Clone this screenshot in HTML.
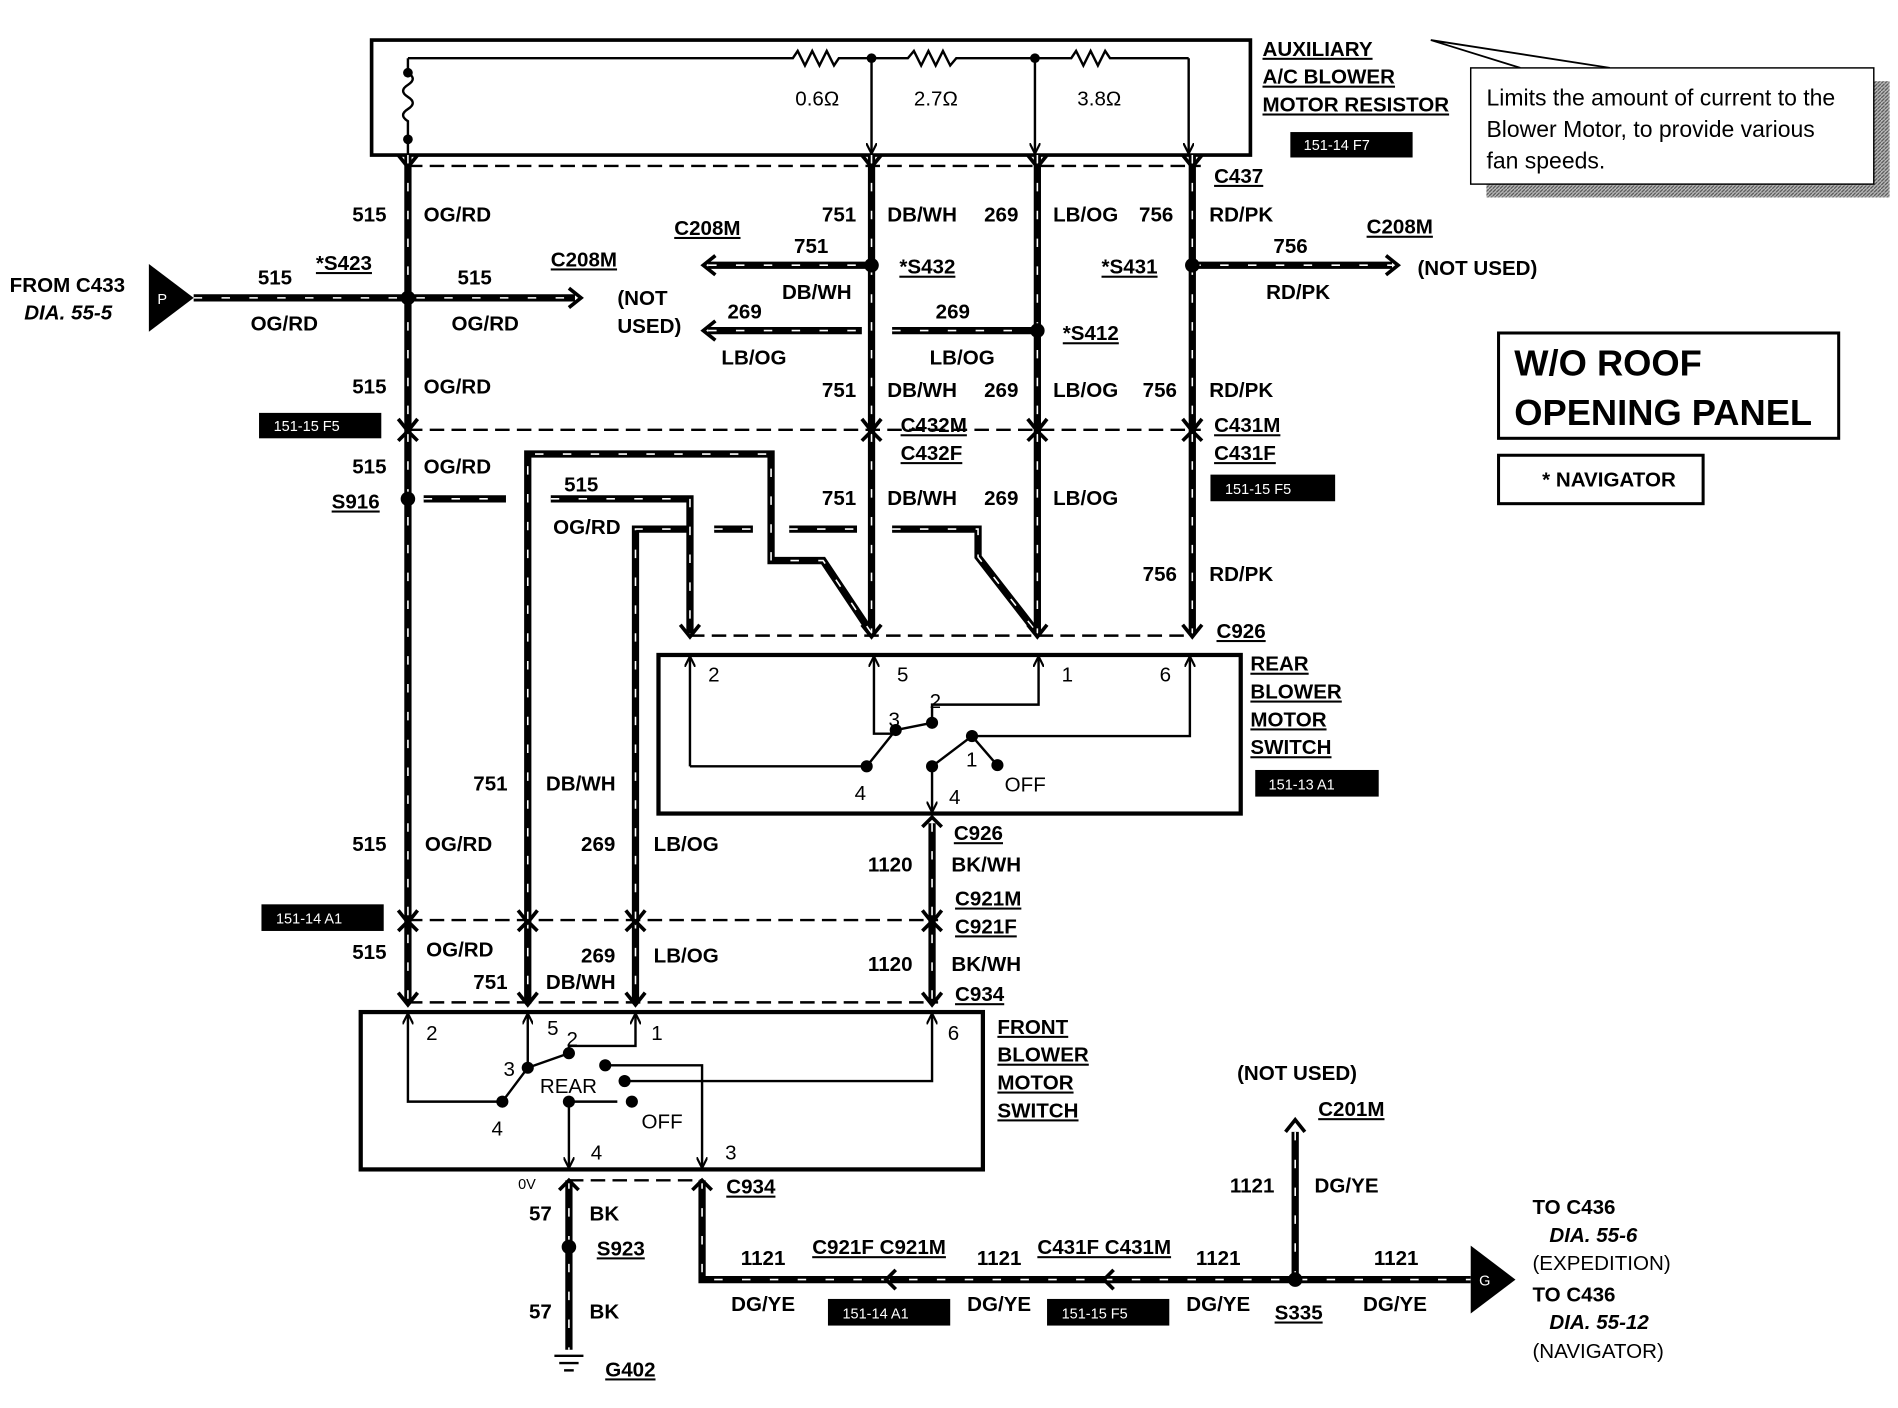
<!DOCTYPE html>
<html><head><meta charset="utf-8"><style>
html,body{margin:0;padding:0;background:#fff}
svg{display:block}
text{font-family:"Liberation Sans",Arial,sans-serif;font-weight:bold;font-size:17px;fill:#000}
.n{font-weight:normal}
text.tg{fill:#fff;font-weight:normal;font-size:12px}
.wl path,.wl line{fill:none}
</style></head><body>
<svg width="1898" height="1408" viewBox="0 0 1568 1163" xmlns="http://www.w3.org/2000/svg">
<defs>
<marker id="ah" viewBox="0 0 10 10" refX="9" refY="5" markerWidth="9" markerHeight="9" orient="auto-start-reverse" markerUnits="userSpaceOnUse"><path d="M0,0 L10,5 L0,10" fill="none" stroke="#000" stroke-width="2"/></marker>
<pattern id="hatch" width="3" height="3" patternUnits="userSpaceOnUse"><rect width="3" height="3" fill="#bbb"/><path d="M0,3 L3,0" stroke="#555" stroke-width="1"/></pattern>
</defs>

<rect x="307" y="33" width="726" height="95" fill="none" stroke="#000" stroke-width="3"/>
<g fill="none" stroke="#000" stroke-width="2">
<path d="M337,48 L655,48 l4,-6 l6,12 l6,-12 l6,12 l6,-12 l6,12 l4,-6 L750,48 l5,-6 l6,12 l6,-12 l6,12 l6,-12 l6,12 l5,-6 L885,48 l4,-6 l6,12 l6,-12 l6,12 l6,-12 l4,6 L982,48"/>
<path d="M337,48 L337,60 q8,5 0,10 q-8,5 0,10 q8,5 0,10 q-8,5 0,10 L337,128"/>
<line x1="720" y1="48" x2="720" y2="126" marker-end="url(#ah)"/>
<line x1="855" y1="48" x2="855" y2="126" marker-end="url(#ah)"/>
<line x1="982" y1="48" x2="982" y2="126" marker-end="url(#ah)"/>
</g>
<g fill="#000"><circle cx="337" cy="60" r="4"/><circle cx="337" cy="115" r="4"/><circle cx="720" cy="48" r="4"/><circle cx="855" cy="48" r="4"/></g>
<text class="n" x="657" y="87">0.6Ω</text><text class="n" x="755" y="87">2.7Ω</text><text class="n" x="890" y="87">3.8Ω</text>

<g stroke="#000" stroke-width="2" stroke-dasharray="12 6" fill="none">
<line x1="337" y1="137" x2="992" y2="137"/>
<line x1="337" y1="355" x2="992" y2="355"/>
<line x1="570" y1="525" x2="985" y2="525"/>
<line x1="337" y1="760" x2="775" y2="760"/>
<line x1="337" y1="828" x2="775" y2="828"/>
<line x1="470" y1="975" x2="580" y2="975"/>
</g>

<g id="W" class="wl" fill="none">
<path d="M337,128 V828"/>
<path d="M720,128 V523"/>
<path d="M857,128 V523"/>
<path d="M985,128 V523"/>
<path d="M160,246 H475"/>
<path d="M585,219 H720"/>
<path d="M585,273 H712"/>
<path d="M737,273 H857"/>
<path d="M985,219 H1150"/>
<path d="M436,760 V375 H637 V463 H680 L720,523"/>
<path d="M525,760 V437 H570"/>
<path d="M455,412 H570 V523"/>
<path d="M350,412 H418"/>
<path d="M590,437 H622"/>
<path d="M652,437 H708"/>
<path d="M737,437 H808 V460 L857,523"/>
<path d="M436,760 V828"/><path d="M525,760 V828"/>
<path d="M770,680 V828"/>
<path d="M470,975 V1115"/>
<path d="M580,975 V1057 H1215"/>
<path d="M1070,935 V1057"/>
</g>
<use href="#W" stroke="#000" stroke-width="6"/>
<use href="#W" stroke="#fff" stroke-width="1.3" stroke-dasharray="7 16"/>
<g fill="none" stroke="#000" stroke-width="3">
<path d="M470,238 l10,8 l-10,8"/><path d="M591,211 l-10,8 l10,8"/><path d="M591,265 l-10,8 l10,8"/>
<path d="M1145,211 l10,8 l-10,8"/><path d="M1062,935 l8,-10 l8,10"/>
<path d="M329,128 l8,10 l8,-10"/><path d="M712,128 l8,10 l8,-10"/><path d="M849,128 l8,10 l8,-10"/><path d="M977,128 l8,10 l8,-10"/>
<path d="M329,346 l8,10 l8,-10"/><path d="M712,346 l8,10 l8,-10"/><path d="M849,346 l8,10 l8,-10"/><path d="M977,346 l8,10 l8,-10"/>
<path d="M329,364 l8,-8 l8,8"/><path d="M712,364 l8,-8 l8,8"/><path d="M849,364 l8,-8 l8,8"/><path d="M977,364 l8,-8 l8,8"/>
<path d="M562,516 l8,10 l8,-10"/><path d="M712,516 l8,10 l8,-10"/><path d="M849,516 l8,10 l8,-10"/><path d="M977,516 l8,10 l8,-10"/>
<path d="M329,752 l8,10 l8,-10"/><path d="M428,752 l8,10 l8,-10"/><path d="M517,752 l8,10 l8,-10"/><path d="M762,752 l8,10 l8,-10"/>
<path d="M329,769 l8,-8 l8,8"/><path d="M428,769 l8,-8 l8,8"/><path d="M517,769 l8,-8 l8,8"/><path d="M762,769 l8,-8 l8,8"/>
<path d="M329,820 l8,10 l8,-10"/><path d="M428,820 l8,10 l8,-10"/><path d="M517,820 l8,10 l8,-10"/><path d="M762,820 l8,10 l8,-10"/>
<path d="M762,683 l8,-8 l8,8"/>
<path d="M462,983 l8,-8 l8,8"/><path d="M572,983 l8,-8 l8,8"/>
<path d="M740,1049 l-8,8 l8,8"/><path d="M920,1049 l-8,8 l8,8"/>
</g>
<g fill="#000">
<circle cx="337" cy="246" r="6"/><circle cx="720" cy="219" r="6"/><circle cx="857" cy="273" r="6"/><circle cx="985" cy="219" r="6"/>
<circle cx="337" cy="412" r="6"/><circle cx="470" cy="1030" r="6"/><circle cx="1070" cy="1057" r="6"/>
<path d="M123,218 L160,246 L123,274 Z"/><path d="M1215,1029 L1252,1057 L1215,1085 Z"/>
</g>
<text class="tg" x="130" y="251">P</text>
<text class="tg" x="1222" y="1062">G</text>
<g stroke="#000" stroke-width="2"><line x1="458" y1="1120" x2="482" y2="1120"/><line x1="462" y1="1126" x2="478" y2="1126"/><line x1="466" y1="1132" x2="474" y2="1132"/></g>

<rect x="544" y="541" width="481" height="131" fill="none" stroke="#000" stroke-width="3.5"/>
<g fill="none" stroke="#000" stroke-width="2">
<path d="M570,633 H714 M570,633 V543" marker-end="url(#ah)"/>
<path d="M740,606 H722 V543" marker-end="url(#ah)"/>
<path d="M770,597 V582 H858 V543" marker-end="url(#ah)"/>
<path d="M803,608 H983 V543" marker-end="url(#ah)"/>
<path d="M716,633 L740,603 M740,603 L770,597 M803,608 L770,633 M803,608 L822,630"/>
<path d="M770,633 V670" marker-end="url(#ah)"/>
</g>
<g fill="#000"><circle cx="716" cy="633" r="5"/><circle cx="740" cy="603" r="5"/><circle cx="770" cy="597" r="5"/><circle cx="803" cy="608" r="5"/><circle cx="770" cy="633" r="5"/><circle cx="824" cy="632" r="5"/></g>
<text class="n" x="585" y="563">2</text><text class="n" x="741" y="563">5</text><text class="n" x="877" y="563">1</text><text class="n" x="958" y="563">6</text>
<text class="n" x="768" y="585">2</text><text class="n" x="734" y="600">3</text><text class="n" x="798" y="633">1</text><text class="n" x="706" y="661">4</text><text class="n" x="784" y="664">4</text><text class="n" x="830" y="654">OFF</text>

<rect x="298" y="836" width="514" height="130" fill="none" stroke="#000" stroke-width="3.5"/>
<g fill="none" stroke="#000" stroke-width="2">
<path d="M413,910 H337 V838" marker-end="url(#ah)"/>
<path d="M436,882 V838" marker-end="url(#ah)"/>
<path d="M470,870 V864 H525 V838" marker-end="url(#ah)"/>
<path d="M500,880 H580 V964" marker-end="url(#ah)"/>
<path d="M516,893 H770 V838" marker-end="url(#ah)"/>
<path d="M415,910 L436,882 L470,870 M470,910 H510"/>
<path d="M470,910 V964" marker-end="url(#ah)"/>
</g>
<g fill="#000"><circle cx="415" cy="910" r="5"/><circle cx="436" cy="882" r="5"/><circle cx="470" cy="870" r="5"/><circle cx="500" cy="880" r="5"/><circle cx="516" cy="893" r="5"/><circle cx="470" cy="910" r="5"/><circle cx="522" cy="910" r="5"/></g>
<text class="n" x="352" y="859">2</text><text class="n" x="452" y="855">5</text><text class="n" x="468" y="864">2</text><text class="n" x="538" y="859">1</text><text class="n" x="783" y="859">6</text>
<text class="n" x="416" y="889">3</text><text class="n" x="446" y="903">REAR</text><text class="n" x="406" y="938">4</text><text class="n" x="530" y="932">OFF</text><text class="n" x="488" y="958">4</text><text class="n" x="599" y="958">3</text>

<rect x="1228" y="67" width="333" height="96" fill="url(#hatch)"/>
<path d="M1182,33 L1330,56 M1182,33 L1256,56" stroke="#000" stroke-width="1.5" fill="none"/>
<rect x="1215" y="56" width="333" height="96" fill="#fff" stroke="#000" stroke-width="1.2"/>
<text class="n" x="1228" y="87" style="font-size:19px">Limits the amount of current to the</text>
<text class="n" x="1228" y="113" style="font-size:19px">Blower Motor, to provide various</text>
<text class="n" x="1228" y="139" style="font-size:19px">fan speeds.</text>

<rect x="1238" y="275" width="281" height="87" fill="none" stroke="#000" stroke-width="2.5"/>
<text x="1251" y="310" style="font-size:30px">W/O ROOF</text>
<text x="1251" y="351" style="font-size:30px">OPENING PANEL</text>
<rect x="1238" y="376" width="169" height="40" fill="none" stroke="#000" stroke-width="2.5"/>
<text x="1274" y="402">* NAVIGATOR</text>

<g fill="#000"><rect x="1066" y="109" width="101" height="21"/><rect x="214" y="341" width="101" height="21"/><rect x="1000" y="392" width="103" height="22"/><rect x="1037" y="636" width="102" height="22"/><rect x="216" y="747" width="101" height="22"/><rect x="684" y="1073" width="101" height="22"/><rect x="865" y="1073" width="101" height="22"/></g>
<text class="tg" x="1077" y="124">151-14 F7</text><text class="tg" x="226" y="356">151-15 F5</text><text class="tg" x="1012" y="408">151-15 F5</text><text class="tg" x="1048" y="652">151-13 A1</text><text class="tg" x="228" y="763">151-14 A1</text><text class="tg" x="696" y="1089">151-14 A1</text><text class="tg" x="877" y="1089">151-15 F5</text>

<g text-decoration="underline">
<text x="1043" y="46">AUXILIARY</text><text x="1043" y="69">A/C BLOWER</text><text x="1043" y="92">MOTOR RESISTOR</text>
<text x="1003" y="151">C437</text>
<text x="557" y="194">C208M</text><text x="455" y="220">C208M</text><text x="1129" y="193">C208M</text>
<text x="261" y="223">*S423</text><text x="743" y="226">*S432</text><text x="910" y="226">*S431</text><text x="878" y="281">*S412</text>
<text x="744" y="357">C432M</text><text x="744" y="380">C432F</text><text x="1003" y="357">C431M</text><text x="1003" y="380">C431F</text>
<text x="274" y="420">S916</text><text x="1005" y="527">C926</text>
<text x="1033" y="554">REAR</text><text x="1033" y="577">BLOWER</text><text x="1033" y="600">MOTOR</text><text x="1033" y="623">SWITCH</text>
<text x="788" y="694">C926</text><text x="789" y="748">C921M</text><text x="789" y="771">C921F</text><text x="789" y="827">C934</text>
<text x="824" y="854">FRONT</text><text x="824" y="877">BLOWER</text><text x="824" y="900">MOTOR</text><text x="824" y="923">SWITCH</text>
<text x="600" y="986">C934</text><text x="493" y="1037">S923</text><text x="1089" y="922">C201M</text>
<text x="671" y="1036">C921F C921M</text><text x="857" y="1036">C431F C431M</text>
<text x="1053" y="1090">S335</text><text x="500" y="1137">G402</text>
</g>
<text x="8" y="241">FROM C433</text><text x="20" y="264" font-style="italic">DIA. 55-5</text>
<text x="213" y="235">515</text><text x="207" y="273">OG/RD</text><text x="378" y="235">515</text><text x="373" y="273">OG/RD</text>
<text x="510" y="252">(NOT</text><text x="510" y="275">USED)</text>
<text x="291" y="183">515</text><text x="350" y="183">OG/RD</text>
<text x="679" y="183">751</text><text x="733" y="183">DB/WH</text><text x="813" y="183">269</text><text x="870" y="183">LB/OG</text><text x="941" y="183">756</text><text x="999" y="183">RD/PK</text>
<text x="656" y="209">751</text><text x="646" y="247">DB/WH</text><text x="601" y="263">269</text><text x="596" y="301">LB/OG</text>
<text x="773" y="263">269</text><text x="768" y="301">LB/OG</text>
<text x="1052" y="209">756</text><text x="1046" y="247">RD/PK</text><text x="1171" y="227">(NOT USED)</text>
<text x="291" y="325">515</text><text x="350" y="325">OG/RD</text>
<text x="679" y="328">751</text><text x="733" y="328">DB/WH</text><text x="813" y="328">269</text><text x="870" y="328">LB/OG</text><text x="944" y="328">756</text><text x="999" y="328">RD/PK</text>
<text x="291" y="391">515</text><text x="350" y="391">OG/RD</text>
<text x="466" y="406">515</text><text x="457" y="441">OG/RD</text>
<text x="679" y="417">751</text><text x="733" y="417">DB/WH</text><text x="813" y="417">269</text><text x="870" y="417">LB/OG</text>
<text x="944" y="480">756</text><text x="999" y="480">RD/PK</text>
<text x="391" y="653">751</text><text x="451" y="653">DB/WH</text>
<text x="291" y="703">515</text><text x="351" y="703">OG/RD</text><text x="480" y="703">269</text><text x="540" y="703">LB/OG</text>
<text x="717" y="720">1120</text><text x="786" y="720">BK/WH</text>
<text x="291" y="792">515</text><text x="352" y="790">OG/RD</text><text x="480" y="795">269</text><text x="540" y="795">LB/OG</text>
<text x="717" y="802">1120</text><text x="786" y="802">BK/WH</text>
<text x="391" y="817">751</text><text x="451" y="817">DB/WH</text>
<text class="n" x="428" y="982" style="font-size:12px">0V</text>
<text x="437" y="1008">57</text><text x="487" y="1008">BK</text><text x="437" y="1089">57</text><text x="487" y="1089">BK</text>
<text x="1022" y="892">(NOT USED)</text>
<text x="1016" y="985">1121</text><text x="1086" y="985">DG/YE</text>
<text x="612" y="1045">1121</text><text x="604" y="1083">DG/YE</text>
<text x="807" y="1045">1121</text><text x="799" y="1083">DG/YE</text>
<text x="988" y="1045">1121</text><text x="980" y="1083">DG/YE</text>
<text x="1135" y="1045">1121</text><text x="1126" y="1083">DG/YE</text>
<text x="1266" y="1003">TO C436</text><text x="1280" y="1026" font-style="italic">DIA. 55-6</text><text class="n" x="1266" y="1049">(EXPEDITION)</text>
<text x="1266" y="1075">TO C436</text><text x="1280" y="1098" font-style="italic">DIA. 55-12</text><text class="n" x="1266" y="1122">(NAVIGATOR)</text>
</svg>
</body></html>
